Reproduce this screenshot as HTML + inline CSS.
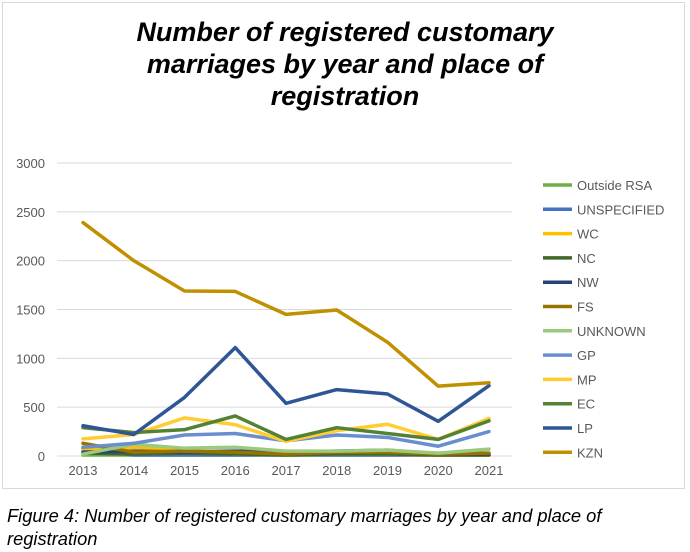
<!DOCTYPE html>
<html><head><meta charset="utf-8"><style>
body{margin:0;width:690px;height:552px;background:#fff;font-family:"Liberation Sans",sans-serif;position:relative;overflow:hidden}
#frame{position:absolute;left:2px;top:2px;width:683px;height:487px;border:1px solid #d9d9d9;box-sizing:border-box}
#title{position:absolute;left:115px;width:460px;top:16px;text-align:center;font-weight:bold;font-style:italic;font-size:27px;line-height:32px;color:#000}
#cap{position:absolute;left:7px;top:504px;font-style:italic;font-size:18.3px;line-height:23px;color:#000;white-space:nowrap}
svg{position:absolute;left:0;top:0}
</style></head><body>
<div id="frame"></div>
<div id="title">Number of registered customary<br>marriages by year and place of<br>registration</div>
<svg id="chart" width="690" height="552"></svg>
<div id="cap">Figure 4: Number of registered customary marriages by year and place of<br>registration</div>
<script>
const years=[2013,2014,2015,2016,2017,2018,2019,2020,2021];
const yTicks=[0,500,1000,1500,2000,2500,3000];
const seriesNames=["Outside RSA","UNSPECIFIED","WC","NC","NW","FS","UNKNOWN","GP","MP","EC","LP","KZN"];
const seriesColors=["#70ad47","#4472c4","#ffc000","#43682b","#264478","#997300","#9bc97e","#698ed0","#ffcd33","#548235","#2f5597","#bf9000"];
const outsideRSA=[10,10,10,10,10,10,10,10,10];
const unspecified=[80,10,10,10,10,10,10,10,10];
const wc=[60,90,60,20,10,20,20,10,10];
const nc=[30,20,30,20,10,20,20,10,10];
const nw=[40,50,40,50,40,50,60,20,20];
const fs=[130,40,50,40,20,40,40,20,30];
const unknown=[20,120,80,90,50,50,60,30,70];
const gp=[90,130,215,230,155,215,190,100,250];
const mp=[175,220,390,320,150,260,325,170,385];
const ec=[290,240,270,410,170,290,230,170,360];
const lp=[310,220,600,1110,540,680,635,355,720];
const kzn=[2390,2000,1690,1685,1450,1495,1165,715,750];
const allSeries=[outsideRSA,unspecified,wc,nc,nw,fs,unknown,gp,mp,ec,lp,kzn];
const NS="http://www.w3.org/2000/svg";
const svg=document.getElementById('chart');
const x=i=>83+i*(489-83)/(years.length-1);
const y=v=>456-v*(456-163)/3000;
function mk(t,a){const e=document.createElementNS(NS,t);for(const k in a)e.setAttribute(k,a[k]);svg.appendChild(e);return e;}
yTicks.forEach(t=>{
 const g=mk('line',{x1:57,x2:512,y1:y(t),y2:y(t),stroke:'#d9d9d9','stroke-width':1});
 
 
 const l=mk('text',{x:45,y:y(t)+5,'text-anchor':'end','font-size':13,fill:'#595959','font-family':'Liberation Sans,sans-serif'});
 l.textContent=t;
 
 
});
years.forEach((yr,i)=>{
 const l=mk('text',{x:x(i),y:475,'text-anchor':'middle','font-size':13,fill:'#595959','font-family':'Liberation Sans,sans-serif'});
 l.textContent=yr;
 
 
});
allSeries.forEach((s,k)=>{
 const p=mk('polyline',{points:s.map((v,i)=>x(i)+','+y(v)).join(' '),fill:'none',stroke:seriesColors[k],'stroke-width':3.5,'stroke-linejoin':'round','stroke-linecap':'round'});
 
 
 const ly=185+k*24.3;
 const sw=mk('line',{x1:543,x2:572,y1:ly,y2:ly,stroke:seriesColors[k],'stroke-width':3.5});
 
 
 const t=mk('text',{x:577,y:ly+5,'font-size':13,fill:'#595959','font-family':'Liberation Sans,sans-serif'});
 t.textContent=seriesNames[k];
 
 
});
</script>
</body></html>
